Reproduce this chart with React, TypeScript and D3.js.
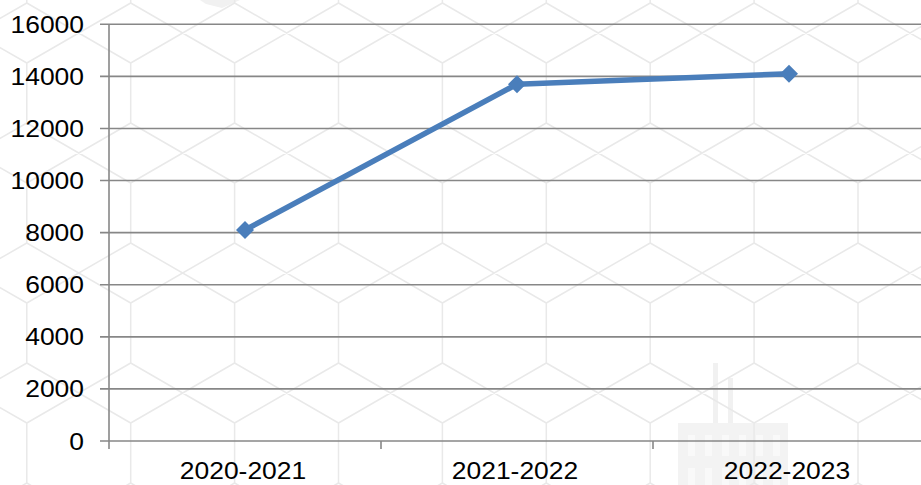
import React from "react";
import * as d3 from "d3";

const categories = ["2020-2021", "2021-2022", "2022-2023"];
const values = [8100, 13700, 14100];
const yTicks = [0, 2000, 4000, 6000, 8000, 10000, 12000, 14000, 16000];

const W = 921;
const H = 485;
const left = 109;
const right = 925;
const top = 24.3;
const bottom = 441;

const FONT = "'Liberation Sans', Arial, sans-serif";
const FS = 23;
const SX = 1.15;

export default function App() {
  const x = d3.scaleBand<string>().domain(categories).range([left, right]);
  const y = d3.scaleLinear().domain([0, 16000]).range([bottom, top]);
  const line = d3
    .line<number>()
    .x((_, i) => (x(categories[i]) as number) + x.bandwidth() / 2)
    .y((d) => y(d));

  // background hexagon-like pattern
  const hx0 = 26.8;
  const hdx = 103.9;
  const hy0 = 63;
  const segs: string[] = [];
  for (let j = -1; j <= 4; j++) {
    const yv1 = hy0 + 120 * j;
    const yv2 = yv1 + 60;
    const yd2 = yv2 + 60;
    for (let k = -1; k <= 9; k++) {
      const xa = hx0 + hdx * k;
      const xb = xa + hdx;
      segs.push(`M${xa},${yv1}L${xa},${yv2}`);
      segs.push(`M${xa},${yv2}L${xb},${yd2}`);
      segs.push(`M${xb},${yv2}L${xa},${yd2}`);
    }
  }

  const windowsX = [688, 705, 722, 739, 756, 773];

  return (
    <svg width={W} height={H} style={{ position: "absolute", left: 0, top: 0, background: "#fff" }}>
      <rect x={0} y={0} width={W} height={H} fill="#ffffff" />
      {/* watermark building */}
      <g>
        <rect x={713} y={363} width={5} height={60} fill="#f1f1f1" />
        <rect x={728} y={378} width={5} height={45} fill="#f1f1f1" />
        <rect x={678} y={423} width={110} height={62} fill="#f3f3f3" />
        {windowsX.map((wx, i) => (
          <g key={i}>
            <rect x={wx} y={435} width={7} height={21} fill="#f9f9f9" />
            <rect x={wx} y={468} width={7} height={17} fill="#f9f9f9" />
          </g>
        ))}
        <path d="M200,0L240,0L222,8L206,4Z" fill="#f1f1f1" />
      </g>
      <path d={segs.join("")} stroke="#e9e9e9" strokeWidth={1.5} fill="none" />
      {/* gridlines */}
      {yTicks.map((t) => (
        <line key={t} x1={100} x2={right} y1={y(t)} y2={y(t)} stroke="#878787" strokeWidth={1.6} />
      ))}
      {/* y axis */}
      <line x1={left} x2={left} y1={top} y2={449} stroke="#878787" strokeWidth={1.6} />
      {/* category ticks */}
      {categories.map((c) => (
        <line
          key={c}
          x1={(x(c) as number) + x.bandwidth()}
          x2={(x(c) as number) + x.bandwidth()}
          y1={bottom}
          y2={449}
          stroke="#878787"
          strokeWidth={1.6}
        />
      ))}
      {/* y labels */}
      {yTicks.map((t) => (
        <text
          key={t}
          transform={`translate(84,${y(t) + 8.5}) scale(${SX},1)`}
          textAnchor="end"
          fontFamily={FONT}
          fontSize={FS}
          fill="#000"
        >
          {t}
        </text>
      ))}
      {/* x labels */}
      {categories.map((c) => (
        <text
          key={c}
          transform={`translate(${(x(c) as number) + x.bandwidth() / 2 - 2},479.3) scale(${SX},1)`}
          textAnchor="middle"
          fontFamily={FONT}
          fontSize={FS}
          fill="#000"
        >
          {c}
        </text>
      ))}
      {/* series */}
      <path d={line(values) as string} stroke="#4A7EBB" strokeWidth={5.5} fill="none" strokeLinejoin="round" />
      {values.map((v, i) => {
        const cx = (x(categories[i]) as number) + x.bandwidth() / 2;
        const cy = y(v);
        const r = 9;
        return (
          <path
            key={i}
            d={`M${cx},${cy - r}L${cx + r},${cy}L${cx},${cy + r}L${cx - r},${cy}Z`}
            fill="#4A7EBB"
          />
        );
      })}
    </svg>
  );
}
